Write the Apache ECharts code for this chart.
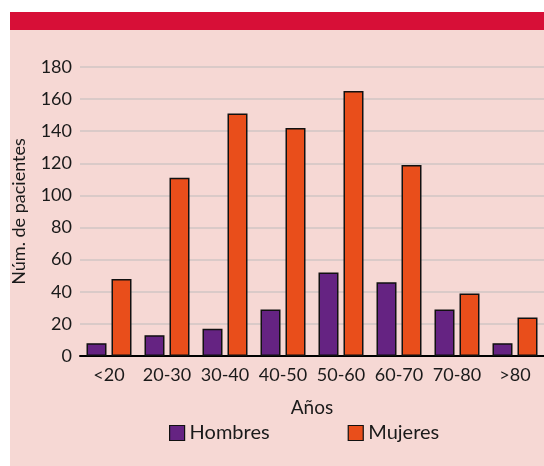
<!DOCTYPE html>
<html>
<head>
<meta charset="utf-8">
<script src="https://cdn.jsdelivr.net/npm/echarts@6/dist/echarts.min.js"></script>
<style>
    html, body { margin: 0; padding: 0; background: #fff; }
    #chart { width: 544px; height: 466px; }
</style>
</head>
<body>
<div id="chart"></div>
<script>
    // grupos de edad
    var categorias = ['<20', '20-30', '30-40', '40-50', '50-60', '60-70', '70-80', '>80'];
    var hombres = [8, 13, 17, 29, 52, 46, 29, 8];
    var mujeres = [48, 111, 151, 142, 165, 119, 39, 24];
    var yTicks = {min: 0, max: 180, interval: 20};

    var fuente = 'Lato';
    var chart = echarts.init(document.getElementById('chart'));

    var option = {
        backgroundColor: '#fff',
        textStyle: {fontFamily: fuente, color: '#1a1a1a'},
        graphic: [
            {type: 'rect', shape: {x: 10, y: 30, width: 534, height: 436}, style: {fill: '#F6D8D4'}, z: -10},
            {type: 'rect', shape: {x: 10, y: 12, width: 534, height: 18}, style: {fill: '#D70F37'}, z: -10}
        ],
        grid: {left: 80, top: 67, width: 467, height: 289},
        legend: {
            top: 418,
            left: 164,
            itemWidth: 15,
            itemHeight: 15,
            itemGap: 78,
            icon: 'rect',
            textStyle: {fontFamily: fuente, fontSize: 20, color: '#1a1a1a'},
            data: [
                {name: 'Hombres', itemStyle: {borderColor: '#111', borderWidth: 1.2}},
                {name: 'Mujeres', itemStyle: {borderColor: '#111', borderWidth: 1.2}}
            ]
        },
        xAxis: {
            type: 'category',
            data: categorias,
            name: 'Años',
            nameLocation: 'middle',
            nameGap: 42,
            nameTextStyle: {fontFamily: fuente, fontSize: 19, color: '#1a1a1a'},
            axisLine: {lineStyle: {color: '#000', width: 2}},
            axisTick: {show: false},
            axisLabel: {fontFamily: fuente, fontSize: 18, color: '#1a1a1a', margin: 10, interval: 0}
        },
        yAxis: {
            type: 'value',
            min: yTicks.min,
            max: yTicks.max,
            interval: yTicks.interval,
            name: 'Núm. de pacientes',
            nameLocation: 'middle',
            nameGap: 52,
            nameTextStyle: {fontFamily: fuente, fontSize: 18, color: '#1a1a1a'},
            axisLine: {show: false},
            axisTick: {show: false},
            axisLabel: {fontFamily: fuente, fontSize: 18, color: '#1a1a1a', margin: 8},
            splitLine: {lineStyle: {color: '#d0c6c4', width: 1.5}}
        },
        series: [
            {
                name: 'Hombres',
                type: 'bar',
                data: hombres,
                barWidth: 20,
                barGap: '25%',
                itemStyle: {color: '#652382', borderColor: '#111', borderWidth: 1.5}
            },
            {
                name: 'Mujeres',
                type: 'bar',
                data: mujeres,
                barWidth: 20,
                itemStyle: {color: '#E94E1B', borderColor: '#111', borderWidth: 1.5}
            }
        ]
    };

    chart.setOption(option);
</script>
</body>
</html>
